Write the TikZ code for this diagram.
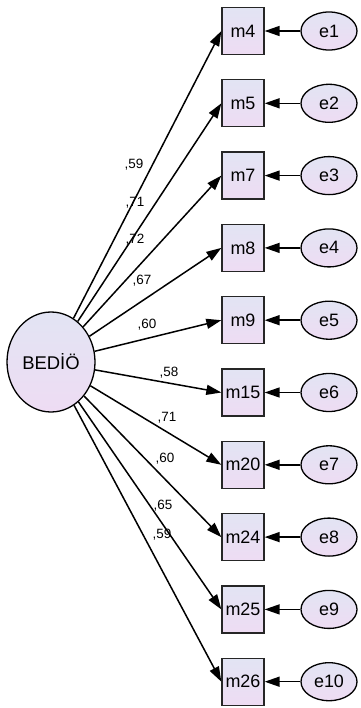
\documentclass[tikz,border=0pt]{standalone}
\usepackage{fontspec}
\setmainfont{Liberation Sans}
\usetikzlibrary{arrows.meta,shapes.geometric}

\definecolor{filltop}{RGB}{226,228,243}
\definecolor{fillbot}{RGB}{238,220,243}

\begin{document}
\begin{tikzpicture}[x=1bp,y=-1bp,
		item/.style={draw=black!85,line width=1.3bp,minimum width=42bp,minimum height=47bp,inner sep=0pt,
			top color=filltop,bottom color=fillbot,font=\fontsize{18}{18}\selectfont},
		err/.style={ellipse,draw,line width=1.3bp,minimum width=56bp,minimum height=38bp,inner sep=0pt,
			top color=filltop,bottom color=fillbot,font=\fontsize{18}{18}\selectfont},
		load/.style={line width=1.5bp,-{Triangle[length=15bp,width=10bp]}},
		coef/.style={font=\fontsize{13.5}{13.5}\selectfont}]
		\useasboundingbox (0,0) rectangle (360,708);

		\node[ellipse,draw,line width=1.3bp,minimum width=88bp,minimum height=100bp,inner sep=0pt,
			top color=filltop,bottom color=fillbot,font=\fontsize{18.5}{18.5}\selectfont] (F) at (51,362) {BEDİÖ};

		\node[item] (m4)  at (243, 31.0) {m4};
		\node[item] (m5)  at (243,103.3) {m5};
		\node[item] (m7)  at (243,175.6) {m7};
		\node[item] (m8)  at (243,247.9) {m8};
		\node[item] (m9)  at (243,320.2) {m9};
		\node[item] (m15) at (243,392.5) {m15};
		\node[item] (m20) at (243,464.8) {m20};
		\node[item] (m24) at (243,537.1) {m24};
		\node[item] (m25) at (243,609.4) {m25};
		\node[item] (m26) at (243,681.7) {m26};

		\node[err] (e1)  at (329, 31.0) {e1};
		\node[err] (e2)  at (329,103.3) {e2};
		\node[err] (e3)  at (329,175.6) {e3};
		\node[err] (e4)  at (329,247.9) {e4};
		\node[err] (e5)  at (329,320.2) {e5};
		\node[err] (e6)  at (329,392.5) {e6};
		\node[err] (e7)  at (329,464.8) {e7};
		\node[err] (e8)  at (329,537.1) {e8};
		\node[err] (e9)  at (329,609.4) {e9};
		\node[err] (e10) at (329,681.7) {e10};

		\draw[load] (F) -- (m4.west);
		\draw[load] (F) -- (m5.west);
		\draw[load] (F) -- (m7.west);
		\draw[load] (F) -- (m8.west);
		\draw[load] (F) -- (m9.west);
		\draw[load] (F) -- (m15.west);
		\draw[load] (F) -- (m20.west);
		\draw[load] (F) -- (m24.west);
		\draw[load] (F) -- (m25.west);
		\draw[load] (F) -- (m26.west);

		\draw[load] (e1)  -- (m4);
		\draw[load] (e2)  -- (m5);
		\draw[load] (e3)  -- (m7);
		\draw[load] (e4)  -- (m8);
		\draw[load] (e5)  -- (m9);
		\draw[load] (e6)  -- (m15);
		\draw[load] (e7)  -- (m20);
		\draw[load] (e8)  -- (m24);
		\draw[load] (e9)  -- (m25);
		\draw[load] (e10) -- (m26);

		\node[coef] (c4)  at (134,165) {,59};
		\node[coef] (c5)  at (135,203) {,71};
		\node[coef] (c7)  at (135,240) {,72};
		\node[coef] (c8)  at (142,281) {,67};
		\node[coef] (c9)  at (147,325) {,60};
		\node[coef] (c15) at (169,373) {,58};
		\node[coef] (c20) at (167,418) {,71};
		\node[coef] (c24) at (165,459) {,60};
		\node[coef] (c25) at (163,506) {,65};
		\node[coef] (c26) at (162,535) {,59};

	\end{tikzpicture}
\end{document}
